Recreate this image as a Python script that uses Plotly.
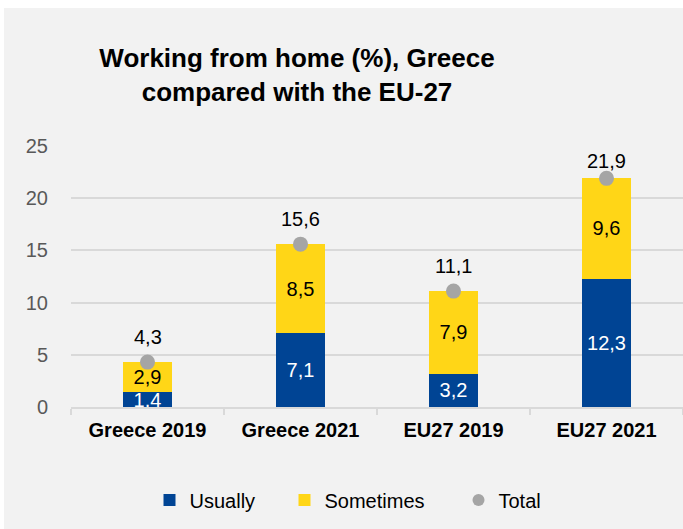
import plotly.graph_objects as go

categories = ["Greece 2019", "Greece 2021", "EU27 2019", "EU27 2021"]
usually = [1.4, 7.1, 3.2, 12.3]
sometimes = [2.9, 8.5, 7.9, 9.6]
total = [4.3, 15.6, 11.1, 21.9]
y_ticks = [0, 5, 10, 15, 20, 25]

FONT = "Liberation Sans, Arial, sans-serif"
BLUE = "#004494"
YELLOW = "#FFD617"
GREY = "#A5A5A5"
GRID = "#D9D9D9"
PANEL = "#F2F2F2"

W, H = 683, 529
ML, MR, MT, MB = 71, 0, 146, 122
PW, PH = W - ML - MR, H - MT - MB
YMAX = 25
ppu = PH / YMAX


def fmt(v):
    return f"{v:.1f}".replace(".", ",")


def px_x(p):
    return (p - ML) / PW


def px_y(p):
    return (H - MB - p) / PH


fig = go.Figure()
fig.add_trace(go.Bar(
    x=categories, y=usually, name="Usually", marker=dict(color=BLUE, line=dict(width=0)),
    text=[fmt(v) for v in usually], textposition="inside", insidetextanchor="middle",
    textangle=0, constraintext="none", textfont=dict(color="white", size=20, family=FONT),
    width=0.32, legend="legend", hoverinfo="skip",
))
fig.add_trace(go.Bar(
    x=categories, y=sometimes, name="Sometimes", marker=dict(color=YELLOW, line=dict(width=0)),
    text=[fmt(v) for v in sometimes], textposition="inside", insidetextanchor="middle",
    textangle=0, constraintext="none", textfont=dict(color="black", size=20, family=FONT),
    width=0.32, legend="legend2", hoverinfo="skip",
))
fig.add_trace(go.Scatter(
    x=categories, y=total, name="Total", mode="markers",
    marker=dict(color=GREY, size=15), legend="legend3", hoverinfo="skip", cliponaxis=False,
))

for c, v in zip(categories, total):
    shift = min(25, (YMAX - v) * ppu - 15)
    fig.add_annotation(x=c, y=v, text=fmt(v), showarrow=False, yshift=shift,
                       font=dict(size=20, color="black", family=FONT))

# grey panel with thin white border at top-left
fig.add_shape(type="rect", xref="paper", yref="paper", layer="below",
              x0=px_x(4), x1=px_x(W + 5), y0=px_y(H + 5), y1=px_y(8),
              fillcolor=PANEL, line=dict(width=0))

leg_common = dict(orientation="h", yanchor="middle", xanchor="left", y=px_y(500),
                  bgcolor="rgba(0,0,0,0)", font=dict(size=20, color="#000000", family=FONT),
                  itemsizing="constant")

fig.update_layout(
    width=W, height=H, autosize=False,
    margin=dict(l=ML, r=MR, t=MT, b=MB, pad=0),
    paper_bgcolor="white", plot_bgcolor="rgba(0,0,0,0)",
    barmode="stack",
    font=dict(family=FONT, color="#000000"),
    title=dict(text="<b>Working from home (%), Greece<br>compared with the EU-27</b>",
               x=297 / W, xanchor="center", xref="container",
               y=1 - 67 / H, yanchor="middle", yref="container",
               font=dict(size=26, color="#000000", family=FONT)),
    xaxis=dict(showgrid=False, showline=True, linecolor=GRID, linewidth=1.5,
               ticks="outside", tickson="boundaries", ticklen=6, tickcolor=GRID, tickwidth=1.5,
               tickfont=dict(size=20, color="#000000", family=FONT, weight="bold"),
               ticklabelstandoff=4, fixedrange=True),
    yaxis=dict(range=[0, YMAX], tickvals=y_ticks, showgrid=True, gridcolor=GRID, gridwidth=1.5,
               zeroline=False, showline=False, ticks="",
               tickfont=dict(size=20, color="#595959", family=FONT),
               ticklabelstandoff=22, fixedrange=True),
    legend=dict(leg_common, x=px_x(149.5)),
    legend2=dict(leg_common, x=px_x(284.5)),
    legend3=dict(leg_common, x=px_x(458.5)),
    showlegend=True,
)

fig.write_html("out.html")
